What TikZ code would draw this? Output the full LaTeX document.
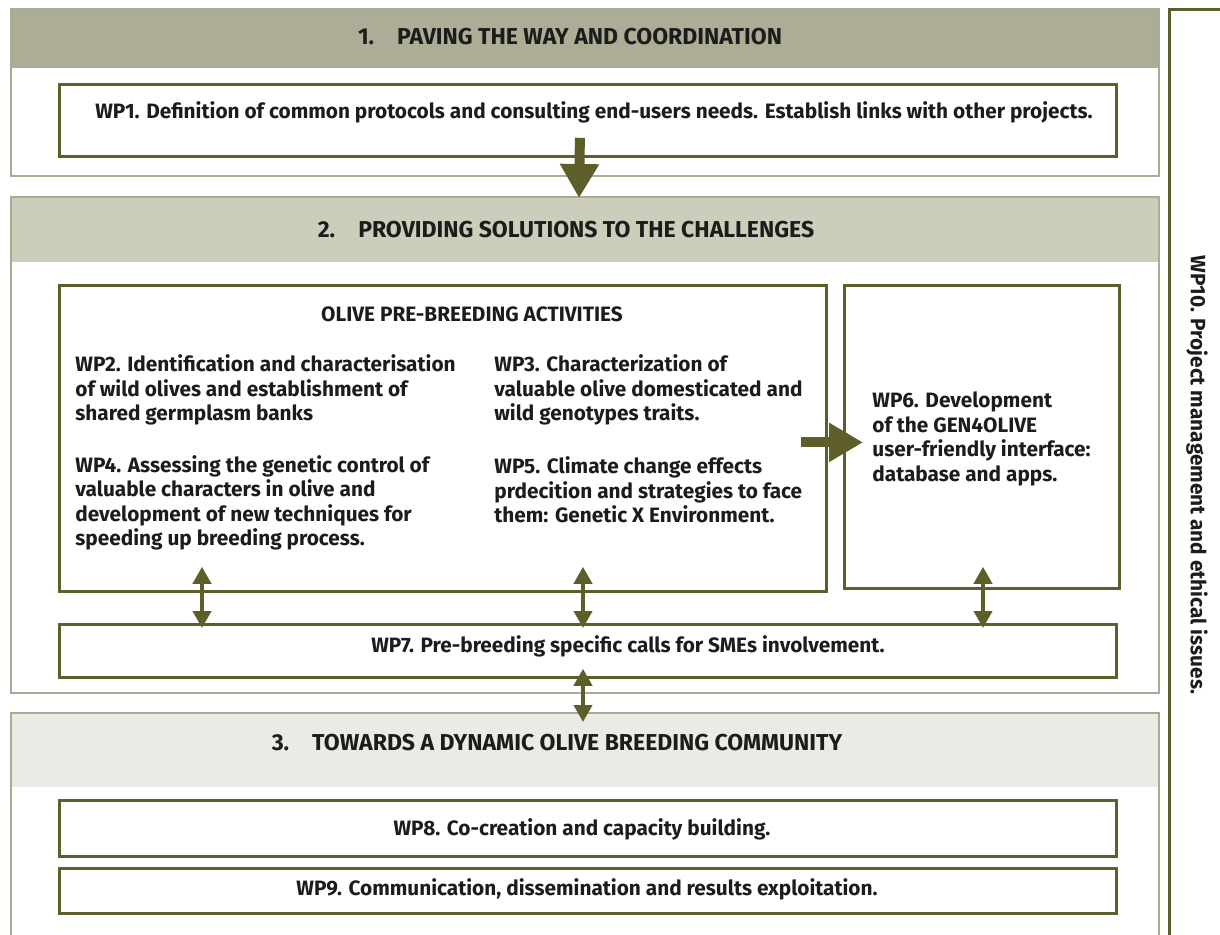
\documentclass[tikz,border=0pt]{standalone}
\usepackage{fontspec}
\setmainfont{Fira Sans}
\usetikzlibrary{arrows.meta,calc}
\definecolor{olivedk}{HTML}{5E5E2B}
\definecolor{frameol}{HTML}{ABAB94}
\definecolor{bandone}{HTML}{ADAD97}
\definecolor{bandtwo}{HTML}{CDCDBB}
\definecolor{bandthree}{HTML}{EBEBE5}
\definecolor{inktext}{HTML}{1C1C1C}
\tikzset{
  frame/.style={draw=frameol,line width=1pt,anchor=north west,inner sep=0pt},
  band/.style={fill=#1,anchor=north west,inner sep=0pt,minimum width=574pt},
  wpbox/.style={draw=olivedk,line width=1.4pt,fill=white,anchor=north west,inner sep=0pt},
  wptext/.style={font=\bfseries\fontsize{10.4}{12.25}\selectfont,text=inktext,align=left,inner sep=0pt},
  headtext/.style={font=\bfseries\fontsize{11.5}{13}\selectfont,text=inktext,inner sep=0pt},
  bigarrow/.style={olivedk,line width=5pt,-{Triangle[width=18.5pt,length=17pt]}},
  twoway/.style={olivedk,line width=2pt,{Triangle[width=9pt,length=8.5pt]}-{Triangle[width=9pt,length=8.5pt]}}
}
\begin{document}
\begin{tikzpicture}[x=0.5pt,y=-0.5pt]
\clip (0,0) rectangle (1220,935);
% section bands and frames
\node[band=bandone,minimum height=30pt] (bandone) at (10,8) {};
\node[band=bandtwo,minimum height=33pt] (bandtwo) at (10,196) {};
\node[band=bandthree,minimum height=37.5pt] (bandthree) at (10,712) {};
\node[frame,minimum width=574pt,minimum height=83.5pt] (secone) at (10,8) {};
\node[frame,minimum width=574pt,minimum height=248pt] (sectwo) at (10,196) {};
\node[frame,minimum width=574pt,minimum height=124pt] (secthree) at (10,712) {};
\node[headtext] (headone) at (570,37) {1.\hspace{1em}PAVING THE WAY AND COORDINATION};
\node[headtext] (headtwo) at (566,230) {2.\hspace{1em}PROVIDING SOLUTIONS TO THE CHALLENGES};
\node[headtext] (headthree) at (557,743) {3.\hspace{1em}TOWARDS A DYNAMIC OLIVE BREEDING COMMUNITY};
% work package boxes
\node[wpbox,minimum width=528.5pt,minimum height=36pt] (wpone) at (58,83) {};
\node[wpbox,minimum width=383.5pt,minimum height=153pt] (pre) at (58,284) {};
\node[wpbox,minimum width=137.5pt,minimum height=151.5pt] (wpsix) at (843,284) {};
\node[wpbox,minimum width=528.5pt,minimum height=26.5pt] (wpseven) at (58,623) {};
\node[wpbox,minimum width=528.5pt,minimum height=28pt] (wpeight) at (58,799) {};
\node[wpbox,minimum width=528.5pt,minimum height=22.5pt] (wpnine) at (58,867) {};
\node[wpbox,fill=none,minimum width=60pt,minimum height=480pt] (wpten) at (1168,8) {};
% texts
\node[wptext] (wponetext) at (594,112) {WP1. Definition of common protocols and consulting end-users needs. Establish links with other projects.};
\node[wptext] (pretitle) at (472,314) {OLIVE PRE-BREEDING ACTIVITIES};
\node[wptext,anchor=west] (wptwo) at (75,390) {WP2. Identification and characterisation\\of wild olives and establishment of\\shared germplasm banks};
\node[wptext,anchor=west] (wpfour) at (75,503) {WP4. Assessing the genetic control of\\valuable characters in olive and\\development of new techniques for\\speeding up breeding process.};
\node[wptext,anchor=west] (wpthree) at (494,390) {WP3. Characterization of\\valuable olive domesticated and\\wild genotypes traits.};
\node[wptext,anchor=west] (wpfive) at (494,490) {WP5. Climate change effects\\prdecition and strategies to face\\them: Genetic X Environment.};
\node[wptext,anchor=west] (wpsixtext) at (872,439) {WP6. Development\\of the GEN4OLIVE\\user-friendly interface:\\database and apps.};
\node[wptext] (wpseventext) at (628,646) {WP7. Pre-breeding specific calls for SMEs involvement.};
\node[wptext] (wpeighttext) at (582,829) {WP8. Co-creation and capacity building.};
\node[wptext] (wpninetext) at (587,889) {WP9. Communication, dissemination and results exploitation.};
\node[wptext,rotate=-90] (wptentext) at (1197,475) {WP10. Project management and ethical issues.};
% arrows
\draw[bigarrow] ($(wpone.south)+(-8,-20)$) -- ($(sectwo.north)+(-6,2)$);
\draw[bigarrow] ($(pre.east)+(-27,4)$) -- ($(wpsix.west)+(20,5.5)$);
\coordinate (xa) at (202,0);
\coordinate (xb) at (583,0);
\coordinate (xc) at (983,0);
\draw[twoway] ($(pre.south -| xa)+(0,-26)$) -- ($(wpseven.north -| xa)+(0,5)$);
\draw[twoway] ($(pre.south -| xb)+(0,-26)$) -- ($(wpseven.north -| xb)+(0,5)$);
\draw[twoway] ($(wpsix.south -| xc)+(0,-23)$) -- ($(wpseven.north -| xc)+(0,5)$);
\draw[twoway] ($(wpseven.south -| xb)+(0,-10)$) -- ($(secthree.north -| xb)+(0,10)$);
\end{tikzpicture}
\end{document}
